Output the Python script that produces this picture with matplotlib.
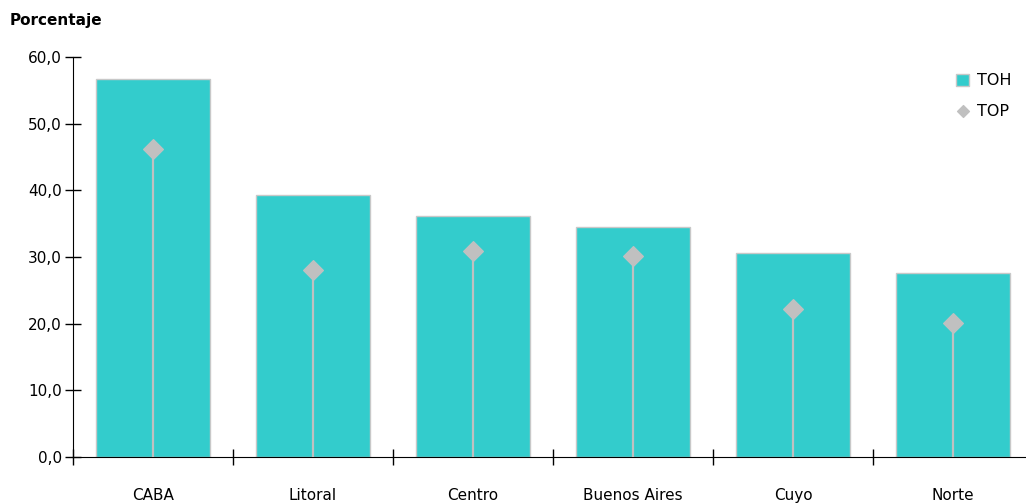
import matplotlib.pyplot as plt
import numpy as np

regiones = ["CABA", "Litoral", "Centro", "Buenos Aires", "Cuyo", "Norte"]
toh = [56.7, 39.3, 36.1, 34.5, 30.6, 27.6]
top = [46.2, 28.0, 30.9, 30.1, 22.2, 20.1]
yticks = [0, 10, 20, 30, 40, 50, 60]

plt.rcParams['font.family'] = ['DejaVu Sans']

fig = plt.figure(figsize=(10.26, 5.04), dpi=100)
ax = fig.add_axes([73 / 1026, 1 - 457 / 504, (1026 - 73) / 1026, 400 / 504])

x = np.arange(len(regiones))
barras = ax.bar(x, toh, width=0.71, color="#33CCCC", edgecolor="#C8C8C8", linewidth=1.0,
                label="TOH", zorder=2)
ax.vlines(x, 0, top, color="#C0C0C0", linewidth=1.6, zorder=3)
puntos = ax.scatter(x, top, marker="D", s=100, color="#C0C0C0", edgecolor="#C0C0C0",
                    label="TOP", zorder=4)

ax.set_ylim(0, 60)
ax.set_xlim(-0.5, 5.5 - 7 / 160)
ax.set_yticks(yticks)
ax.set_yticklabels([f"{v:.1f}".replace(".", ",") for v in yticks], fontsize=11)

ax.set_xticks(x)
ax.set_xticklabels(regiones, fontsize=11)
ax.tick_params(axis="x", which="major", length=0, pad=22)
ax.set_xticks(np.arange(len(regiones)) - 0.5, minor=True)
ax.tick_params(axis="x", which="minor", direction="inout", length=12, width=1)
ax.tick_params(axis="y", direction="inout", length=12, width=1, pad=2)

for s in ["top", "right"]:
    ax.spines[s].set_visible(False)

ax.legend([barras, puntos], ["TOH", "TOP"], loc="upper right",
          bbox_to_anchor=(1.0, 0.995), frameon=False, fontsize=11.5,
          handlelength=0.8, handleheight=0.8, handletextpad=0.5, labelspacing=0.95,
          markerscale=0.6)

fig.text(10 / 1026, 1 - 20 / 504, "Porcentaje", fontsize=11, fontweight="bold",
         va="center", ha="left")

fig.savefig("out.png", dpi=100)
